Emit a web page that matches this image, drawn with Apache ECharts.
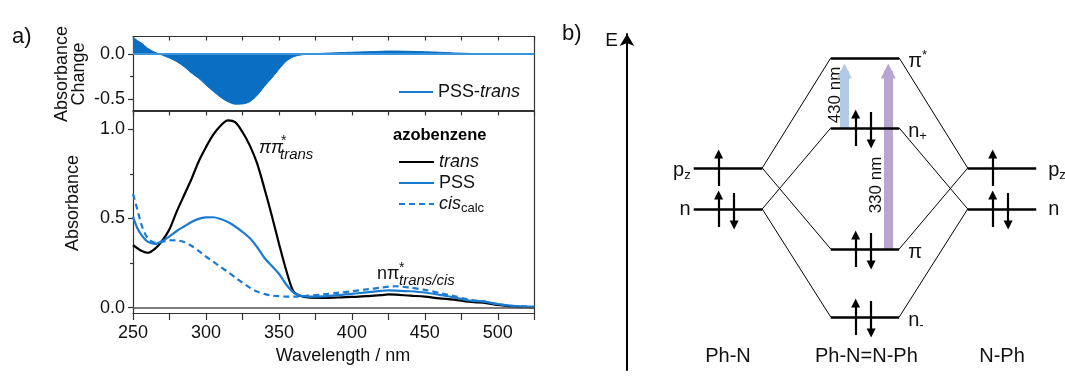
<!DOCTYPE html>
<html>
<head>
<meta charset="utf-8">
<script src="https://cdn.jsdelivr.net/npm/echarts@6/dist/echarts.min.js"></script>
<style>
html,body{margin:0;padding:0;background:#ffffff;}
#chart{width:1065px;height:376px;}
</style>
</head>
<body>
<div id="chart"></div>
<script>
// ---------------- data (a) : UV/Vis spectra ----------------
const wavelength = [250,253,256,260,265,270,275,280,285,290,295,300,305,310,315,320,325,330,335,340,345,350,355,360,365,370,380,390,400,410,420,425,430,440,450,460,470,480,485,490,500,510,525];
const absTrans   = [0.35,0.333,0.318,0.308,0.33,0.375,0.44,0.54,0.63,0.72,0.82,0.90,0.97,1.02,1.05,1.04,0.985,0.91,0.81,0.67,0.52,0.36,0.21,0.09,0.065,0.057,0.055,0.057,0.06,0.065,0.07,0.074,0.073,0.067,0.062,0.052,0.045,0.033,0.03,0.028,0.015,0.006,0.002];
const absPSS     = [0.51,0.445,0.405,0.37,0.357,0.372,0.40,0.43,0.455,0.48,0.498,0.506,0.507,0.497,0.48,0.455,0.425,0.39,0.34,0.28,0.235,0.19,0.13,0.085,0.066,0.062,0.063,0.07,0.077,0.086,0.094,0.097,0.096,0.092,0.085,0.072,0.058,0.04,0.037,0.035,0.02,0.01,0.004];
const absCisCalc = [0.637,0.55,0.46,0.39,0.365,0.37,0.378,0.377,0.368,0.347,0.318,0.286,0.258,0.228,0.2,0.17,0.14,0.112,0.09,0.077,0.068,0.064,0.062,0.062,0.064,0.067,0.074,0.083,0.092,0.102,0.112,0.118,0.12,0.112,0.1,0.082,0.065,0.045,0.04,0.035,0.02,0.01,0.004];
const absChange  = [0.19,0.15,0.12,0.065,0.02,-0.012,-0.045,-0.085,-0.14,-0.21,-0.27,-0.345,-0.415,-0.48,-0.53,-0.557,-0.555,-0.53,-0.46,-0.36,-0.27,-0.17,-0.08,-0.03,-0.01,0,0.008,0.015,0.02,0.025,0.03,0.033,0.033,0.03,0.025,0.02,0.012,0.007,0.005,0.004,0.002,0.001,0];
const changeTicks = [-0.5, 0];
const changeMinorTicks = [-0.25];
const absTicks = [0, 0.5, 1.0];
const absMinorTicks = [0.25, 0.75];

// ---------------- data (b) : MO energy diagram (arbitrary energy units) ----------------
const columns = ['Ph-N', 'Ph-N=N-Ph', 'N-Ph'];
const aoLevels = [
  {name: 'pz', energy: 14.9, electrons: [1]},
  {name: 'n',  energy: 10.8, electrons: [1, -1]}
];
const moLevels = [
  {name: 'π*', energy: 25.9, electrons: []},
  {name: 'n+', energy: 18.9, electrons: [1, -1]},
  {name: 'π',  energy: 6.8,  electrons: [1, -1]},
  {name: 'n-', energy: 0.0,  electrons: [1, -1]}
];
const correlations = [['pz', 'π*'], ['pz', 'π'], ['n', 'n+'], ['n', 'n-']];
const transitions = [
  {from: 'n+', to: 'π*', label: '430 nm', color: '#b3cae7', pos: 0.85, labelPos: 0.78, labelE: 22.2},
  {from: 'π',  to: 'π*', label: '330 nm', color: '#b9a6d0', pos: 1.17, labelPos: 1.08, labelE: 13.2}
];
const columnLabelE = -3.9;

// ---------------- build ----------------
const FONT = '"Liberation Sans", Arial, Helvetica, sans-serif';
const BLUE = '#1b7bd0';
const FILL = '#0a6fc2';
const INK = '#111111';
const pairs = (ys) => wavelength.map((w, i) => [w, ys[i]]);

const HALF = 0.25;
const lvl = (name) => aoLevels.concat(moLevels).find(l => l.name === name);
const levelSegs = [], connSegs = [], spinSegs = [], levelLabels = [];
const richLbl = {
  m: {fontSize: 20, fontFamily: FONT, fill: INK, lineHeight: 24},
  s: {fontSize: 13, fontFamily: FONT, fill: INK, lineHeight: 13, verticalAlign: 'bottom'},
  t: {fontSize: 13, fontFamily: FONT, fill: INK, lineHeight: 13, verticalAlign: 'top'}
};
function fmtName(n) {
  if (n === 'pz') return '{m|p}{s|z}';
  if (n === 'n+') return '{m|n}{s|+}';
  if (n === 'n-') return '{m|n}{s|-}';
  if (n === 'π*') return '{m|π}{t|*}';
  return '{m|' + n + '}';
}
function addSpins(col, l) {
  l.electrons.forEach(s => {
    const x = col + (s > 0 ? -0.068 : 0.045);
    const a = l.energy + (s > 0 ? -1.8 : 1.6);
    const b = l.energy + (s > 0 ? 1.4 : -1.6);
    spinSegs.push({coords: [[x, a], [x, b]]});
  });
}
aoLevels.forEach(l => {
  [0, 2].forEach(c => {
    levelSegs.push({coords: [[c - HALF, l.energy], [c + HALF, l.energy]]});
    addSpins(c, l);
  });
  levelLabels.push({at: [0 - HALF, l.energy], dx: -3, dy: l.name === 'pz' ? 2 : 0, align: 'right', text: fmtName(l.name)});
  levelLabels.push({at: [2 + HALF, l.energy], dx: 12, dy: l.name === 'pz' ? 2 : 0, align: 'left', text: fmtName(l.name)});
});
moLevels.forEach(l => {
  levelSegs.push({coords: [[1 - HALF, l.energy], [1 + HALF, l.energy]]});
  addSpins(1, l);
  levelLabels.push({at: [1 + HALF, l.energy], dx: 9, dy: 3, align: 'left', text: fmtName(l.name)});
});
correlations.forEach(([a, m]) => {
  const ea = lvl(a).energy, em = lvl(m).energy;
  connSegs.push({coords: [[0 + HALF, ea], [1 - HALF, em]]});
  connSegs.push({coords: [[2 - HALF, ea], [1 + HALF, em]]});
});
const transSeries = transitions.map(t => ({
  type: 'lines', coordinateSystem: 'cartesian2d', xAxisIndex: 4, yAxisIndex: 6, z: 1,
  symbol: ['none', 'triangle'], symbolSize: 15, silent: true,
  lineStyle: {color: t.color, width: 9, opacity: 1},
  data: [{coords: [[t.pos, lvl(t.from).energy], [t.pos, lvl(t.to).energy - 1.3]]}]
}));

const staticGraphic = [
  {type: 'text', x: 12, y: 37, style: {text: 'a)', fontSize: 22, fontFamily: FONT, fill: INK, align: 'left', verticalAlign: 'middle'}},
  {type: 'text', x: 562, y: 34, style: {text: 'b)', fontSize: 22, fontFamily: FONT, fill: INK, align: 'left', verticalAlign: 'middle'}},
  {type: 'text', x: 71, y: 74, rotation: Math.PI / 2, style: {text: 'Absorbance\nChange', fontSize: 18, lineHeight: 17, fontFamily: FONT, fill: INK, align: 'center', verticalAlign: 'middle'}},
  {type: 'text', x: 73, y: 203, rotation: Math.PI / 2, style: {text: 'Absorbance', fontSize: 18, fontFamily: FONT, fill: INK, align: 'center', verticalAlign: 'middle'}},
  {type: 'text', x: 343, y: 356, style: {text: 'Wavelength / nm', fontSize: 18, fontFamily: FONT, fill: INK, align: 'center', verticalAlign: 'middle'}},
  {type: 'text', x: 393, y: 135, style: {text: 'azobenzene', fontSize: 16.5, fontWeight: 'bold', fontFamily: FONT, fill: '#000', align: 'left', verticalAlign: 'middle'}},
  {type: 'text', x: 259, y: 148, style: {text: 'ππ', fontSize: 18, fontStyle: 'italic', fontFamily: FONT, fill: INK, align: 'left', verticalAlign: 'middle'}},
  {type: 'text', x: 281, y: 141, style: {text: '*', fontSize: 14, fontFamily: FONT, fill: INK, align: 'left', verticalAlign: 'middle'}},
  {type: 'text', x: 280, y: 155, style: {text: 'trans', fontSize: 15, fontStyle: 'italic', fontFamily: FONT, fill: INK, align: 'left', verticalAlign: 'middle'}},
  {type: 'text', x: 377, y: 274, style: {text: 'nπ', fontSize: 18, fontFamily: FONT, fill: INK, align: 'left', verticalAlign: 'middle'}},
  {type: 'text', x: 399, y: 268, style: {text: '*', fontSize: 14, fontFamily: FONT, fill: INK, align: 'left', verticalAlign: 'middle'}},
  {type: 'text', x: 399, y: 281, style: {text: 'trans/cis', fontSize: 15, fontStyle: 'italic', fontFamily: FONT, fill: INK, align: 'left', verticalAlign: 'middle'}}
];

const option = {
  animation: false,
  backgroundColor: '#ffffff',
  textStyle: {fontFamily: FONT},
  grid: [
    {left: 133, top: 36.5, width: 401.3, height: 74.2, outerBoundsMode: 'none', containLabel: false},
    {left: 133, top: 111.5, width: 401.3, height: 201.5, outerBoundsMode: 'none', containLabel: false},
    {left: 627, top: 34, width: 438, height: 336, outerBoundsMode: 'none', containLabel: false}
  ],
  xAxis: [
    {gridIndex: 0, type: 'value', min: 250, max: 525, interval: 50, position: 'bottom',
     axisLine: {show: true, onZero: false, lineStyle: {color: '#333', width: 1.2}},
     axisTick: {show: false}, axisLabel: {show: false}, splitLine: {show: false}},
    {gridIndex: 0, type: 'value', min: 250, max: 525, interval: 25, position: 'top',
     axisLine: {show: true, onZero: false, lineStyle: {color: '#333', width: 1.2}},
     axisTick: {show: true, inside: true, length: 4, lineStyle: {color: '#333', width: 1.2}},
     axisLabel: {show: false}, splitLine: {show: false}},
    {gridIndex: 1, type: 'value', min: 250, max: 525, interval: 50, position: 'bottom',
     axisLine: {show: true, onZero: false, lineStyle: {color: '#333', width: 1.2}},
     axisTick: {show: true, inside: false, length: 7, lineStyle: {color: '#333', width: 1.2}},
     minorTick: {show: true, splitNumber: 2, length: 7, lineStyle: {color: '#333', width: 1.2}},
     axisLabel: {show: true, showMaxLabel: false, margin: 11, fontSize: 18, color: INK, fontFamily: FONT},
     splitLine: {show: false}, minorSplitLine: {show: false}},
    {gridIndex: 1, type: 'value', min: 250, max: 525, interval: 25, position: 'top',
     axisLine: {show: true, onZero: false, lineStyle: {color: '#333', width: 1.2}},
     axisTick: {show: true, inside: true, length: 4, lineStyle: {color: '#333', width: 1.2}},
     axisLabel: {show: false}, splitLine: {show: false}},
    {gridIndex: 2, type: 'value', min: -0.737, max: 2.46, show: false}
  ],
  yAxis: [
    {gridIndex: 0, type: 'value', min: -0.63, max: 0.195, position: 'left',
     axisLine: {show: true, onZero: false, lineStyle: {color: '#333', width: 1.2}},
     axisTick: {show: true, inside: false, length: 5, customValues: changeTicks, lineStyle: {color: '#333', width: 1.2}},
     axisLabel: {show: true, customValues: changeTicks, margin: 8, fontSize: 18, color: INK, fontFamily: FONT, formatter: v => v.toFixed(1)},
     splitLine: {show: false}},
    {gridIndex: 0, type: 'value', min: -0.63, max: 0.195, position: 'left',
     axisLine: {show: false}, axisLabel: {show: false}, splitLine: {show: false},
     axisTick: {show: true, inside: false, length: 3, customValues: changeMinorTicks, lineStyle: {color: '#333', width: 1.2}}},
    {gridIndex: 0, type: 'value', min: -0.63, max: 0.195, position: 'right',
     axisLine: {show: true, onZero: false, lineStyle: {color: '#333', width: 1.2}},
     axisTick: {show: false}, axisLabel: {show: false}, splitLine: {show: false}},
    {gridIndex: 1, type: 'value', min: -0.03, max: 1.10, position: 'left',
     axisLine: {show: true, onZero: false, lineStyle: {color: '#333', width: 1.2}},
     axisTick: {show: true, inside: false, length: 5, customValues: absTicks, lineStyle: {color: '#333', width: 1.2}},
     axisLabel: {show: true, customValues: absTicks, margin: 8, fontSize: 18, color: INK, fontFamily: FONT, formatter: v => v.toFixed(1)},
     splitLine: {show: false}},
    {gridIndex: 1, type: 'value', min: -0.03, max: 1.10, position: 'left',
     axisLine: {show: false}, axisLabel: {show: false}, splitLine: {show: false},
     axisTick: {show: true, inside: false, length: 3, customValues: absMinorTicks, lineStyle: {color: '#333', width: 1.2}}},
    {gridIndex: 1, type: 'value', min: -0.03, max: 1.10, position: 'right',
     axisLine: {show: true, onZero: false, lineStyle: {color: '#333', width: 1.2}},
     axisTick: {show: false}, axisLabel: {show: false}, splitLine: {show: false}},
    {gridIndex: 2, type: 'value', min: -5.3, max: 28.3, position: 'left',
     name: 'E', nameLocation: 'end', nameGap: 3,
     nameTextStyle: {fontSize: 19, color: INK, fontFamily: FONT, align: 'right', verticalAlign: 'top', padding: [0, 9, 0, 0]},
     axisLine: {show: true, onZero: false, symbol: ['none', 'arrow'], symbolSize: [11, 12], lineStyle: {color: '#000', width: 2}},
     axisTick: {show: false}, axisLabel: {show: false}, splitLine: {show: false}}
  ],
  legend: [
    {data: ['PSS-trans'], left: 394, top: 78, orient: 'horizontal', itemWidth: 34, itemHeight: 14, itemGap: 4,
     selectedMode: false, icon: 'path://M0,6 L34,6 L34,8 L0,8 Z',
     itemStyle: {color: BLUE}, lineStyle: {color: BLUE},
     formatter: () => '{n|PSS-}{i|trans}',
     textStyle: {color: INK, rich: {n: {fontSize: 18, fontFamily: FONT, color: INK}, i: {fontSize: 18, fontStyle: 'italic', fontFamily: FONT, color: INK}}}},
    {data: ['trans', 'PSS', 'cis_calc'], left: 393, top: 148, orient: 'vertical', itemWidth: 35, itemHeight: 14, itemGap: 3,
     selectedMode: false,
     itemStyle: {color: 'rgba(0,0,0,0)', borderWidth: 0, opacity: 0},
     lineStyle: {opacity: 1},
     formatter: (n) => n === 'trans' ? '{i|trans}' : (n === 'PSS' ? '{n|PSS}' : '{i|cis}{s|calc}'),
     textStyle: {color: INK, rich: {
       n: {fontSize: 18, fontFamily: FONT, color: INK, lineHeight: 22},
       i: {fontSize: 18, fontStyle: 'italic', fontFamily: FONT, color: INK, lineHeight: 22},
       s: {fontSize: 13, fontFamily: FONT, color: INK, lineHeight: 13, verticalAlign: 'bottom'}}}}
  ],
  series: [
    {name: 'PSS-trans', type: 'line', xAxisIndex: 0, yAxisIndex: 0, data: pairs(absChange), symbol: 'none', smooth: 0.3,
     lineStyle: {color: FILL, width: 1}, itemStyle: {color: BLUE}, areaStyle: {color: FILL, opacity: 1, origin: 0},
     markLine: {silent: true, symbol: 'none', label: {show: false}, lineStyle: {color: '#3b94dc', width: 2, type: 'solid'}, data: [{yAxis: 0}]}},
    {name: 'trans', type: 'line', xAxisIndex: 2, yAxisIndex: 3, data: pairs(absTrans), symbol: 'none', smooth: 0.3,
     lineStyle: {color: '#000', width: 2.2}, itemStyle: {color: '#000'},
     markLine: {silent: true, symbol: 'none', label: {show: false}, lineStyle: {color: '#555', width: 1.5, type: 'solid'}, data: [{yAxis: 0}]}},
    {name: 'PSS', type: 'line', xAxisIndex: 2, yAxisIndex: 3, data: pairs(absPSS), symbol: 'none', smooth: 0.3,
     lineStyle: {color: BLUE, width: 2.2}, itemStyle: {color: BLUE}},
    {name: 'cis_calc', type: 'line', xAxisIndex: 2, yAxisIndex: 3, data: pairs(absCisCalc), symbol: 'none', smooth: 0.3,
     lineStyle: {color: BLUE, width: 2.2, type: [6, 4]}, itemStyle: {color: BLUE}},
    // diagram
    ...transSeries,
    {type: 'lines', coordinateSystem: 'cartesian2d', xAxisIndex: 4, yAxisIndex: 6, silent: true, z: 2,
     lineStyle: {color: '#000', width: 1, opacity: 1}, data: connSegs},
    {type: 'lines', coordinateSystem: 'cartesian2d', xAxisIndex: 4, yAxisIndex: 6, silent: true, z: 3,
     lineStyle: {color: '#000', width: 2.6, opacity: 1}, data: levelSegs},
    {type: 'lines', coordinateSystem: 'cartesian2d', xAxisIndex: 4, yAxisIndex: 6, silent: true, z: 4,
     symbol: ['none', 'triangle'], symbolSize: 9,
     lineStyle: {color: '#000', width: 2.2, opacity: 1}, data: spinSegs}
  ],
  graphic: staticGraphic
};
const chart = echarts.init(document.getElementById('chart'), null, {renderer: 'canvas'});
chart.setOption(option);

// labels in the diagram placed through the diagram's own axes
const toPx = (pt) => chart.convertToPixel({xAxisIndex: 4, yAxisIndex: 6}, pt);
const dynGraphic = [];
levelLabels.forEach(l => {
  const p = toPx(l.at);
  dynGraphic.push({type: 'text', x: p[0] + l.dx, y: p[1] + l.dy,
    style: {text: l.text, rich: richLbl, fontSize: 20, fontFamily: FONT, fill: INK, align: l.align, verticalAlign: 'middle'}});
});
transitions.forEach(t => {
  const p = toPx([t.labelPos, t.labelE]);
  dynGraphic.push({type: 'text', x: p[0], y: p[1], rotation: Math.PI / 2,
    style: {text: t.label, fontSize: 17, fontFamily: FONT, fill: INK, align: 'center', verticalAlign: 'middle'}});
});
columns.forEach((c, i) => {
  const p = toPx([i + (i === 1 ? 0.01 : 0), columnLabelE]);
  dynGraphic.push({type: 'text', x: p[0], y: p[1],
    style: {text: c, fontSize: 20, fontFamily: FONT, fill: INK, align: 'center', verticalAlign: 'middle'}});
});
chart.setOption({graphic: staticGraphic.concat(dynGraphic)});
</script>
</body>
</html>
